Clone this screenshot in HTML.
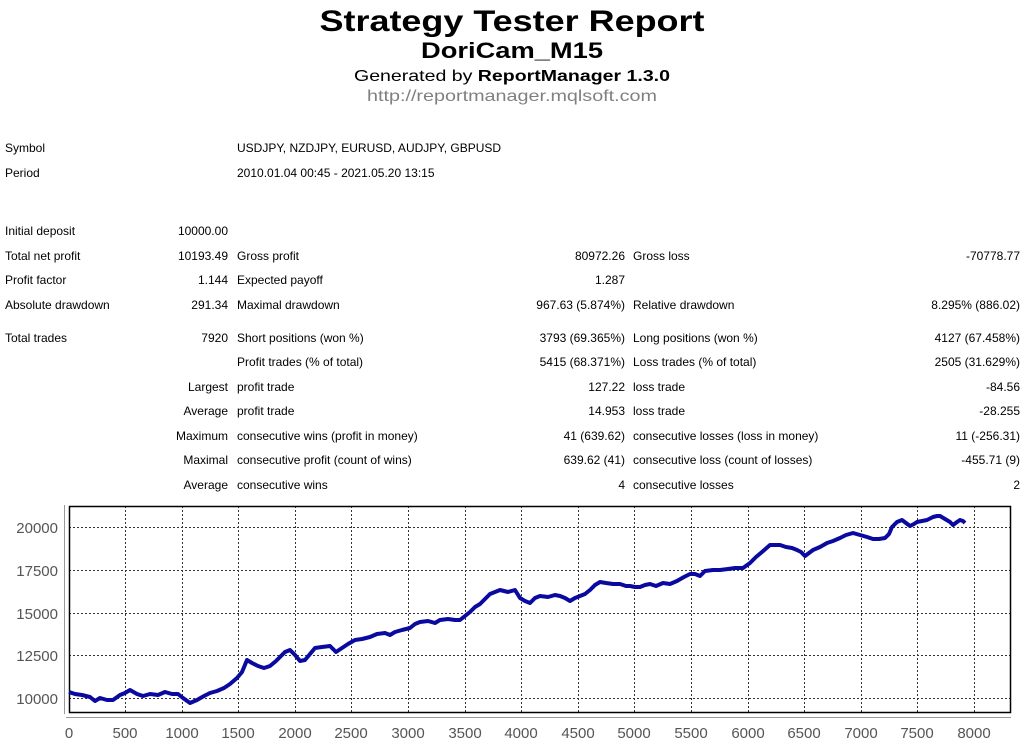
<!DOCTYPE html>
<html><head><meta charset="utf-8"><style>
html,body{margin:0;padding:0;background:#fff;}
svg{display:block;font-family:"Liberation Sans",Arial,sans-serif;}
.t{font-size:12px;fill:#000;}
.ax{font-size:15px;fill:#555;}
</style></head><body>
<svg width="1025" height="743" viewBox="0 0 1025 743" xmlns="http://www.w3.org/2000/svg">
<text x="512" y="31" text-anchor="middle" font-size="30" font-weight="bold" textLength="385" lengthAdjust="spacingAndGlyphs">Strategy Tester Report</text>
<text x="512" y="58" text-anchor="middle" font-size="22" font-weight="bold" textLength="182" lengthAdjust="spacingAndGlyphs">DoriCam_M15</text>
<text x="512" y="81" text-anchor="middle" font-size="16" textLength="316" lengthAdjust="spacingAndGlyphs">Generated by <tspan font-weight="bold">ReportManager 1.3.0</tspan></text>
<text x="512" y="101" text-anchor="middle" font-size="16" fill="#808080" textLength="290" lengthAdjust="spacingAndGlyphs">http://reportmanager.mqlsoft.com</text>

<g class="t">
<text x="5" y="152">Symbol</text><text x="237" y="152">USDJPY, NZDJPY, EURUSD, AUDJPY, GBPUSD</text>
<text x="5" y="177">Period</text><text x="237" y="177">2010.01.04 00:45 - 2021.05.20 13:15</text>

<text x="5" y="235">Initial deposit</text><text x="228" y="235" text-anchor="end">10000.00</text>

<text x="5" y="260">Total net profit</text><text x="228" y="260" text-anchor="end">10193.49</text>
<text x="237" y="260">Gross profit</text><text x="625" y="260" text-anchor="end">80972.26</text>
<text x="633" y="260">Gross loss</text><text x="1020" y="260" text-anchor="end">-70778.77</text>

<text x="5" y="284">Profit factor</text><text x="228" y="284" text-anchor="end">1.144</text>
<text x="237" y="284">Expected payoff</text><text x="625" y="284" text-anchor="end">1.287</text>

<text x="5" y="309">Absolute drawdown</text><text x="228" y="309" text-anchor="end">291.34</text>
<text x="237" y="309">Maximal drawdown</text><text x="625" y="309" text-anchor="end">967.63 (5.874%)</text>
<text x="633" y="309">Relative drawdown</text><text x="1020" y="309" text-anchor="end">8.295% (886.02)</text>

<text x="5" y="342">Total trades</text><text x="228" y="342" text-anchor="end">7920</text>
<text x="237" y="342">Short positions (won %)</text><text x="625" y="342" text-anchor="end">3793 (69.365%)</text>
<text x="633" y="342">Long positions (won %)</text><text x="1020" y="342" text-anchor="end">4127 (67.458%)</text>

<text x="237" y="366">Profit trades (% of total)</text><text x="625" y="366" text-anchor="end">5415 (68.371%)</text>
<text x="633" y="366">Loss trades (% of total)</text><text x="1020" y="366" text-anchor="end">2505 (31.629%)</text>

<text x="228" y="391" text-anchor="end">Largest</text>
<text x="237" y="391">profit trade</text><text x="625" y="391" text-anchor="end">127.22</text>
<text x="633" y="391">loss trade</text><text x="1020" y="391" text-anchor="end">-84.56</text>

<text x="228" y="415" text-anchor="end">Average</text>
<text x="237" y="415">profit trade</text><text x="625" y="415" text-anchor="end">14.953</text>
<text x="633" y="415">loss trade</text><text x="1020" y="415" text-anchor="end">-28.255</text>

<text x="228" y="440" text-anchor="end">Maximum</text>
<text x="237" y="440">consecutive wins (profit in money)</text><text x="625" y="440" text-anchor="end">41 (639.62)</text>
<text x="633" y="440">consecutive losses (loss in money)</text><text x="1020" y="440" text-anchor="end">11 (-256.31)</text>

<text x="228" y="464" text-anchor="end">Maximal</text>
<text x="237" y="464">consecutive profit (count of wins)</text><text x="625" y="464" text-anchor="end">639.62 (41)</text>
<text x="633" y="464">consecutive loss (count of losses)</text><text x="1020" y="464" text-anchor="end">-455.71 (9)</text>

<text x="228" y="489" text-anchor="end">Average</text>
<text x="237" y="489">consecutive wins</text><text x="625" y="489" text-anchor="end">4</text>
<text x="633" y="489">consecutive losses</text><text x="1020" y="489" text-anchor="end">2</text>
</g>

<!-- chart -->
<line x1="64.5" y1="505" x2="64.5" y2="714" stroke="#999" stroke-width="1"/>
<line x1="66" y1="717.5" x2="1011" y2="717.5" stroke="#999" stroke-width="1"/>
<g stroke="#333" stroke-width="1" stroke-dasharray="2,2">
<line x1="69" y1="527.5" x2="1011" y2="527.5"/>
<line x1="69" y1="570.5" x2="1011" y2="570.5"/>
<line x1="69" y1="613.5" x2="1011" y2="613.5"/>
<line x1="69" y1="655.5" x2="1011" y2="655.5"/>
<line x1="69" y1="698.5" x2="1011" y2="698.5"/>
<line x1="125.5" y1="506" x2="125.5" y2="712"/>
<line x1="182.5" y1="506" x2="182.5" y2="712"/>
<line x1="238.5" y1="506" x2="238.5" y2="712"/>
<line x1="295.5" y1="506" x2="295.5" y2="712"/>
<line x1="351.5" y1="506" x2="351.5" y2="712"/>
<line x1="408.5" y1="506" x2="408.5" y2="712"/>
<line x1="465.5" y1="506" x2="465.5" y2="712"/>
<line x1="521.5" y1="506" x2="521.5" y2="712"/>
<line x1="578.5" y1="506" x2="578.5" y2="712"/>
<line x1="634.5" y1="506" x2="634.5" y2="712"/>
<line x1="691.5" y1="506" x2="691.5" y2="712"/>
<line x1="748.5" y1="506" x2="748.5" y2="712"/>
<line x1="804.5" y1="506" x2="804.5" y2="712"/>
<line x1="861.5" y1="506" x2="861.5" y2="712"/>
<line x1="917.5" y1="506" x2="917.5" y2="712"/>
<line x1="974.5" y1="506" x2="974.5" y2="712"/>
</g>
<rect x="69.5" y="506.5" width="941" height="206" fill="none" stroke="#000" stroke-width="1.5"/>
<polyline fill="none" stroke="#0a0aa0" stroke-width="4" stroke-linejoin="round"
points="69,692 75,694 82,695 90,697 95,701 100,698 107,700 113,700 120,695 125,693 130,690 137,694 143,696 150,694 158,695 165,692 172,694 178,694 183,698 190,703 197,700 204,696 210,693 217,691 224,688 230,684 237,678 242,672 247,660 252,663 258,666 264,668 270,666 276,661 280,657 285,652 290,650 295,655 300,661 305,660 310,654 315,648 322,647 330,646 336,652 342,648 348,644 355,640 362,639 370,637 377,634 385,633 390,635 395,632 402,630 410,628 415,624 420,622 428,621 435,623 440,620 448,619 455,620 460,620 465,616 470,612 475,607 480,604 485,599 490,594 495,592 500,590 508,592 515,590 520,598 525,601 530,603 535,598 540,596 548,597 555,595 560,596 565,598 570,601 575,598 580,596 585,594 590,590 595,585 600,582 606,583 613,584 620,584 626,586 630,586 635,587 640,587 645,585 650,584 656,586 663,583 670,584 677,581 684,577 690,574 695,574 700,576 705,571 713,570 720,570 728,569 735,568 743,568 750,563 756,557 762,552 770,545 775,545 780,545 786,547 792,548 797,550 801,552 805,556 809,553 813,550 820,547 827,543 833,541 840,538 846,535 853,533 860,535 867,537 873,539 879,539 885,538 889,534 892,527 897,522 902,520 906,523 910,526 914,524 917,522 922,521 927,520 933,517 937,516 940,516 945,519 950,522 953,525 957,522 960,520 963,521 965,523"/>

<g class="ax" text-anchor="end">
<text x="58" y="533">20000</text>
<text x="58" y="576">17500</text>
<text x="58" y="619">15000</text>
<text x="58" y="661">12500</text>
<text x="58" y="704">10000</text>
</g>
<g class="ax" text-anchor="middle">
<text x="69" y="738">0</text>
<text x="125" y="738">500</text>
<text x="182" y="738">1000</text>
<text x="238" y="738">1500</text>
<text x="295" y="738">2000</text>
<text x="351" y="738">2500</text>
<text x="408" y="738">3000</text>
<text x="465" y="738">3500</text>
<text x="521" y="738">4000</text>
<text x="578" y="738">4500</text>
<text x="634" y="738">5000</text>
<text x="691" y="738">5500</text>
<text x="748" y="738">6000</text>
<text x="804" y="738">6500</text>
<text x="861" y="738">7000</text>
<text x="917" y="738">7500</text>
<text x="974" y="738">8000</text>
</g>
</svg>
</body></html>
